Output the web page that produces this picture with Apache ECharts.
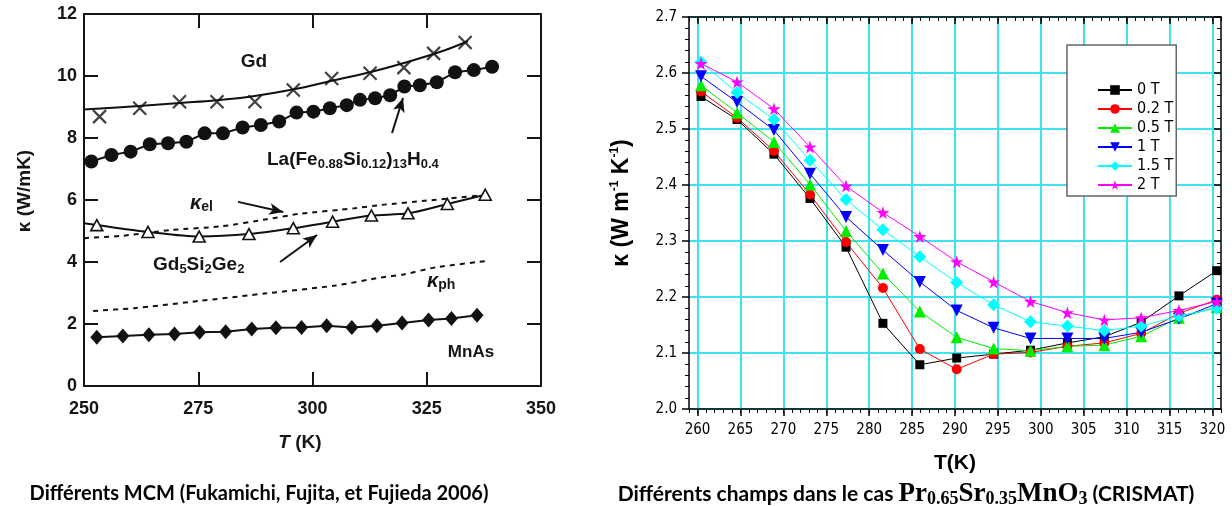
<!DOCTYPE html>
<html><head><meta charset="utf-8">
<script src="https://cdn.jsdelivr.net/npm/echarts/dist/echarts.min.js"></script>
<style>html,body{margin:0;padding:0;background:#fff}#c{width:1232px;height:506px}</style>
</head><body><div id="c"></div>
<script>
// ---------- Left chart (Fukamichi et al. 2006) ----------
const gdMarkT = [253.4, 262.2, 270.9, 279.1, 287.4, 295.8, 304.2, 312.6, 320.0, 326.5, 333.4];
const gdMarkK = [8.69, 8.96, 9.17, 9.17, 9.17, 9.55, 9.92, 10.09, 10.27, 10.73, 11.08];
const gdFitT = [250, 262, 271, 279, 287, 296, 304, 313, 320, 328, 334];
const gdFitK = [8.92, 9.03, 9.13, 9.22, 9.35, 9.57, 9.84, 10.14, 10.42, 10.78, 11.12];
const laT = [251.6, 256.0, 260.2, 264.4, 268.4, 272.4, 276.4, 280.4, 284.7, 288.7, 292.7, 296.5, 300.2, 303.8, 307.5, 310.4, 313.7, 317.0, 320.1, 323.5, 327.2, 331.2, 335.3, 339.3];
const laK = [7.24, 7.45, 7.56, 7.80, 7.83, 7.88, 8.15, 8.15, 8.34, 8.42, 8.53, 8.82, 8.85, 8.96, 9.06, 9.23, 9.28, 9.38, 9.66, 9.70, 9.80, 10.12, 10.19, 10.30];
const gdsgT = [250, 252.8, 264.0, 275.2, 286.1, 295.8, 304.4, 312.9, 320.9, 329.5, 337.8];
const gdsgK = [5.25, 5.19, 4.97, 4.82, 4.90, 5.09, 5.30, 5.50, 5.57, 5.87, 6.17];
const kelT = [250, 258, 269, 280, 290, 297, 309, 315, 325, 337];
const kelK = [4.77, 4.84, 5.03, 5.15, 5.38, 5.55, 5.73, 5.84, 5.98, 6.15];
const kphT = [252, 261, 275, 290, 305, 315, 320, 327, 338];
const kphK = [2.42, 2.51, 2.74, 2.99, 3.24, 3.50, 3.60, 3.83, 4.03];
const mnasT = [252.8, 258.5, 264.2, 269.8, 275.3, 281.0, 286.7, 292.0, 297.6, 303.1, 308.6, 314.1, 319.6, 325.4, 330.4, 336.0];
const mnasK = [1.57, 1.61, 1.65, 1.68, 1.73, 1.75, 1.84, 1.88, 1.89, 1.94, 1.89, 1.94, 2.03, 2.13, 2.18, 2.28];
// arrows (tail -> head) in data units
const arrowsL = [
  [[283.7, 5.94], [293.6, 5.61]],
  [[292.9, 4.00], [301.0, 4.87]],
  [[317.4, 8.16], [319.8, 9.29]]
];

// ---------- Right chart (Pr0.65Sr0.35MnO3) ----------
const tempR = [260.4, 264.6, 268.9, 273.1, 277.3, 281.6, 285.9, 290.2, 294.5, 298.8, 303.1, 307.4, 311.7, 316.1, 320.5];
const fieldNames = ['0 T', '0.2 T', '0.5 T', '1 T', '1.5 T', '2 T'];
const k0T  = [2.558, 2.517, 2.455, 2.376, 2.289, 2.153, 2.079, 2.091, 2.098, 2.105, 2.118, 2.129, 2.155, 2.202, 2.247];
const k02T = [2.567, 2.520, 2.461, 2.383, 2.298, 2.216, 2.107, 2.071, 2.098, 2.101, 2.112, 2.118, 2.135, 2.171, 2.195];
const k05T = [2.578, 2.529, 2.477, 2.401, 2.318, 2.242, 2.174, 2.128, 2.108, 2.104, 2.112, 2.114, 2.130, 2.163, 2.182];
const k1T  = [2.594, 2.548, 2.498, 2.420, 2.343, 2.284, 2.227, 2.176, 2.145, 2.126, 2.126, 2.126, 2.137, 2.161, 2.188];
const k15T = [2.619, 2.565, 2.517, 2.444, 2.374, 2.320, 2.272, 2.226, 2.186, 2.156, 2.148, 2.140, 2.148, 2.166, 2.180];
const k2T  = [2.617, 2.584, 2.536, 2.468, 2.398, 2.351, 2.308, 2.263, 2.227, 2.192, 2.172, 2.159, 2.163, 2.176, 2.192];
const ticksR = [260, 265, 270, 275, 280, 285, 290, 295, 300, 305, 310, 315, 320];

const zip = (a, b) => a.map((v, i) => [v, b[i]]);
const FONT = "'Liberation Sans', Arial, sans-serif";
const NARROW = "'Liberation Sans Narrow', 'Arial Narrow', 'DejaVu Sans Condensed', 'Liberation Sans', sans-serif";
const CAP = "Lato, 'Open Sans', sans-serif";
const SERIF = "'Liberation Serif', 'DejaVu Serif', serif";
const STAR = 'path://M50,0 L61,35 L98,35 L68,57 L79,91 L50,70 L21,91 L32,57 L2,35 L39,35 Z';
const CROSS = 'path://M0,0 L10,10 M10,0 L0,10';
const CYAN = '#3fe3ee';

const leftX = (pos, labels) => ({
  gridIndex: 0, type: 'value', min: 250, max: 350, interval: 25, position: pos,
  axisLine: {show: true, onZero: false, lineStyle: {color: '#151515', width: 2}},
  axisTick: {show: true, inside: true, length: 14, lineStyle: {color: '#151515', width: 2}},
  axisLabel: {show: labels, color: '#151515', fontFamily: FONT, fontWeight: 'bold', fontSize: 18, margin: 14},
  splitLine: {show: false}
});
const leftY = (pos, labels) => ({
  gridIndex: 0, type: 'value', min: 0, max: 12, interval: 2, position: pos,
  axisLine: {show: true, onZero: false, lineStyle: {color: '#151515', width: 2}},
  axisTick: {show: true, inside: true, length: 14, lineStyle: {color: '#151515', width: 2}},
  axisLabel: {show: labels, color: '#151515', fontFamily: FONT, fontWeight: 'bold', fontSize: 18, margin: 7},
  splitLine: {show: false}
});
const rightXMajor = (pos, inside, labels, grid) => ({
  gridIndex: 1, type: 'value', min: 259, max: 321, position: pos,
  axisLine: {show: true, onZero: false, lineStyle: {color: '#000', width: 1.5}},
  axisTick: {show: true, inside: inside, length: 7, customValues: ticksR, lineStyle: {color: '#000', width: 1.5}},
  axisLabel: {show: labels, customValues: ticksR, color: '#000', fontFamily: NARROW, fontSize: 15, margin: 14},
  splitLine: {show: grid, lineStyle: {color: CYAN, width: 2}}
});
const rightXMinor = (pos, inside) => ({
  gridIndex: 1, type: 'value', min: 259, max: 321, interval: 1, position: pos,
  axisLine: {show: false, onZero: false},
  axisTick: {show: true, inside: inside, length: 4, lineStyle: {color: '#000', width: 1}},
  axisLabel: {show: false}, splitLine: {show: false}
});
const rightY = (pos, inside, labels, grid) => ({
  gridIndex: 1, type: 'value', min: 2.0, max: 2.7, interval: 0.1, position: pos,
  axisLine: {show: true, onZero: false, lineStyle: {color: '#000', width: 1.5}},
  axisTick: {show: true, inside: inside, length: 7, lineStyle: {color: '#000', width: 1.5}},
  minorTick: {show: true, splitNumber: 5, length: 4, lineStyle: {color: '#000', width: 1}},
  axisLabel: {show: labels, color: '#000', fontFamily: NARROW, fontSize: 15, margin: 12, formatter: v => v.toFixed(1)},
  splitLine: {show: grid, lineStyle: {color: CYAN, width: 2}}
});

const rightSeries = [
  {name: fieldNames[0], data: k0T, color: '#000000', symbol: 'rect', size: 9},
  {name: fieldNames[1], data: k02T, color: '#ff0000', symbol: 'circle', size: 10},
  {name: fieldNames[2], data: k05T, color: '#00ee00', symbol: 'triangle', size: 12},
  {name: fieldNames[3], data: k1T, color: '#0000ff', symbol: 'triangle', size: 12, rotate: 180},
  {name: fieldNames[4], data: k15T, color: '#00ffff', symbol: 'diamond', size: 13},
  {name: fieldNames[5], data: k2T, color: '#ff00ff', symbol: STAR, size: 13}
].map(s => ({
  name: s.name, type: 'line', xAxisIndex: 2, yAxisIndex: 2,
  data: zip(tempR, s.data), symbol: s.symbol, symbolSize: s.size, symbolRotate: s.rotate || 0,
  showAllSymbol: true, color: s.color,
  itemStyle: {color: s.color}, lineStyle: {color: s.color, width: 1}, z: 3
}));

const kappaRich = {
  m: {fontFamily: FONT, fontWeight: 'bold', fontStyle: 'italic', fontSize: 20, fill: '#151515', lineHeight: 22},
  s: {fontFamily: FONT, fontWeight: 'bold', fontSize: 14, fill: '#151515', lineHeight: 12, verticalAlign: 'bottom'}
};

const option = {
  animation: false,
  backgroundColor: '#fff',
  grid: [
    {left: 84, top: 14, width: 457, height: 372},
    {left: 689, top: 17, width: 532, height: 392}
  ],
  xAxis: [leftX('bottom', true), leftX('top', false),
          rightXMajor('bottom', false, true, true), rightXMinor('bottom', false),
          rightXMajor('top', true, false, false), rightXMinor('top', true)],
  yAxis: [leftY('left', true), leftY('right', false),
          rightY('left', false, true, true), rightY('right', true, false, false)],
  legend: {
    orient: 'vertical', left: 1067, top: 45, selectedMode: false,
    padding: [37, 3, 3, 30], itemGap: 3, itemWidth: 34, itemHeight: 12,
    backgroundColor: '#fff', borderColor: '#666', borderWidth: 1.5, borderRadius: 0,
    textStyle: {fontFamily: NARROW, fontSize: 16, color: '#000', lineHeight: 16},
    data: fieldNames
  },
  series: [
    {type: 'line', xAxisIndex: 0, yAxisIndex: 0, data: zip(gdFitT, gdFitK), smooth: 0.4,
     symbol: 'none', lineStyle: {color: '#111', width: 2}},
    {type: 'scatter', xAxisIndex: 0, yAxisIndex: 0, data: zip(gdMarkT, gdMarkK), symbol: CROSS, symbolSize: 13,
     itemStyle: {color: 'rgba(0,0,0,0)', borderColor: '#111', borderWidth: 2.2}},
    {type: 'line', xAxisIndex: 0, yAxisIndex: 0, data: zip(laT, laK), symbol: 'circle', symbolSize: 14,
     showAllSymbol: true, itemStyle: {color: '#111'}, lineStyle: {color: '#111', width: 2}},
    {type: 'line', xAxisIndex: 0, yAxisIndex: 0, data: zip(kelT, kelK), symbol: 'none', smooth: 0.2,
     lineStyle: {color: '#111', width: 2, type: [5, 5]}},
    {type: 'line', xAxisIndex: 0, yAxisIndex: 0, data: zip(gdsgT, gdsgK).map((p, i) => i === 0 ? {value: p, symbol: 'none'} : p),
     smooth: 0.3, symbol: 'triangle', symbolSize: [12, 11], showAllSymbol: true,
     itemStyle: {color: '#fff', borderColor: '#111', borderWidth: 1.6}, lineStyle: {color: '#111', width: 2}, z: 3},
    {type: 'line', xAxisIndex: 0, yAxisIndex: 0, data: zip(kphT, kphK), symbol: 'none', smooth: 0.2,
     lineStyle: {color: '#111', width: 2, type: [5, 5]}},
    {type: 'line', xAxisIndex: 0, yAxisIndex: 0, data: zip(mnasT, mnasK), symbol: 'diamond', symbolSize: [13, 15],
     showAllSymbol: true, itemStyle: {color: '#111'}, lineStyle: {color: '#111', width: 2},
     markLine: {silent: true, symbol: ['none', 'arrow'], symbolSize: [9, 14], animation: false,
       label: {show: false}, lineStyle: {color: '#111', width: 2, type: 'solid'},
       data: arrowsL.map(a => [{coord: a[0]}, {coord: a[1]}])}}
  ].concat(rightSeries),
  graphic: [
    // left chart texts
    {type: 'text', x: 25, y: 191, rotation: Math.PI / 2, style: {text: 'κ (W/mK)', fontFamily: FONT, fontWeight: 'bold', fontSize: 19, fill: '#151515', align: 'center', verticalAlign: 'middle'}},
    {type: 'text', x: 300, y: 443, style: {text: '{i|T} (K)', fontFamily: FONT, fontWeight: 'bold', fontSize: 19, fill: '#151515', align: 'center', verticalAlign: 'middle',
      rich: {i: {fontFamily: FONT, fontWeight: 'bold', fontStyle: 'italic', fontSize: 19, fill: '#151515'}}}},
    {type: 'text', x: 254, y: 62, style: {text: 'Gd', fontFamily: FONT, fontWeight: 'bold', fontSize: 19, fill: '#151515', align: 'center', verticalAlign: 'middle'}},
    {type: 'text', x: 267, y: 160, style: {text: '{m|La(Fe}{s|0.88}{m|Si}{s|0.12}{m|)}{s|13}{m|H}{s|0.4}', align: 'left', verticalAlign: 'middle',
      rich: {m: {fontFamily: FONT, fontWeight: 'bold', fontSize: 19, fill: '#151515', lineHeight: 22, verticalAlign: 'middle'},
             s: {fontFamily: FONT, fontWeight: 'bold', fontSize: 13, fill: '#151515', lineHeight: 12, verticalAlign: 'bottom'}}}},
    {type: 'text', x: 190, y: 203, style: {text: '{m|κ}{s|el}', align: 'left', verticalAlign: 'middle', rich: kappaRich}},
    {type: 'text', x: 153, y: 265, style: {text: '{m|Gd}{s|5}{m|Si}{s|2}{m|Ge}{s|2}', align: 'left', verticalAlign: 'middle',
      rich: {m: {fontFamily: FONT, fontWeight: 'bold', fontSize: 19, fill: '#151515', lineHeight: 22},
             s: {fontFamily: FONT, fontWeight: 'bold', fontSize: 13, fill: '#151515', lineHeight: 12, verticalAlign: 'bottom'}}}},
    {type: 'text', x: 427, y: 281, style: {text: '{m|κ}{s|ph}', align: 'left', verticalAlign: 'middle', rich: kappaRich}},
    {type: 'text', x: 471, y: 352, style: {text: 'MnAs', fontFamily: FONT, fontWeight: 'bold', fontSize: 17, fill: '#151515', align: 'center', verticalAlign: 'middle'}},
    // right chart texts
    {type: 'text', x: 622, y: 203, rotation: Math.PI / 2, style: {text: '{m|κ (W m}{s|-1}{m| K}{s|-1}{m|)}', align: 'center', verticalAlign: 'middle',
      rich: {m: {fontFamily: FONT, fontWeight: 'bold', fontSize: 23, fill: '#000', lineHeight: 26},
             s: {fontFamily: FONT, fontWeight: 'bold', fontSize: 12, fill: '#000', lineHeight: 14, verticalAlign: 'top'}}}},
    {type: 'text', x: 955, y: 463, style: {text: 'T(K)', fontFamily: FONT, fontWeight: 'bold', fontSize: 21, fill: '#000', align: 'center', verticalAlign: 'middle'}},
    // captions
    {type: 'text', x: 259, y: 494, style: {text: 'Différents MCM (Fukamichi, Fujita, et Fujieda 2006)', fontFamily: CAP, fontWeight: 'bold', fontSize: 20, fill: '#000', align: 'center', verticalAlign: 'middle'}},
    {type: 'text', x: 906, y: 494, style: {text: '{c|Différents champs dans le cas }{f|Pr}{s|0.65}{f|Sr}{s|0.35}{f|MnO}{s|3}{c| (CRISMAT)}', align: 'center', verticalAlign: 'middle',
      rich: {c: {fontFamily: CAP, fontWeight: 'bold', fontSize: 21, fill: '#000', lineHeight: 28},
             f: {fontFamily: SERIF, fontWeight: 'bold', fontSize: 27, fill: '#000', lineHeight: 28},
             s: {fontFamily: SERIF, fontWeight: 'bold', fontSize: 18, fill: '#000', lineHeight: 16, verticalAlign: 'bottom'}}}}
  ]
};
const chart = echarts.init(document.getElementById('c'), null, {renderer: 'canvas'});
chart.setOption(option);
</script></body></html>
